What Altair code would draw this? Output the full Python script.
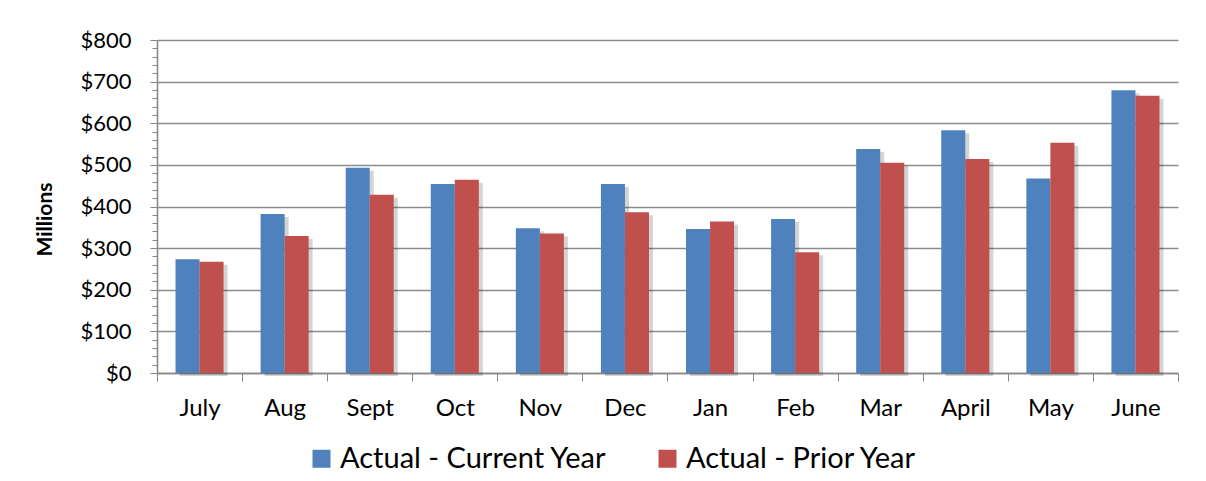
import altair as alt
import pandas as pd

months = ["July", "Aug", "Sept", "Oct", "Nov", "Dec", "Jan", "Feb", "Mar", "April", "May", "June"]
current_year = [273, 382, 493, 454, 348, 454, 346, 370, 538, 583, 467, 679]
prior_year = [267, 329, 428, 464, 335, 386, 364, 290, 505, 514, 553, 666]
series = ["Actual - Current Year", "Actual - Prior Year"]
colors = ["#4F81BD", "#C0504D"]
y_ticks = list(range(0, 801, 20))

rows = []
for m, c, p in zip(months, current_year, prior_year):
    rows.append({"Month": m, "Series": series[0], "Value": c})
    rows.append({"Month": m, "Series": series[1], "Value": p})
df = pd.DataFrame(rows)

FONT = "Lato"
major = "datum.value % 100 === 0"
W, H = 1021, 333
STEP = W / len(months)

x_enc = alt.X(
    "Month:N", sort=months, title=None,
    scale=alt.Scale(paddingInner=0, paddingOuter=0),
    axis=alt.Axis(labelAngle=0, tickBand="extent", tickSize=8, tickColor="#868686",
                  domainColor="#868686", domainWidth=1.5, labelPadding=15,
                  labelFont=FONT, labelFontSize=24, labelColor="#000000"),
)
xo_bar = alt.XOffset("Series:N", sort=series,
                     scale=alt.Scale(paddingInner=0, paddingOuter=0.771))
xo_shadow = alt.XOffset("Series:N", sort=series,
                        scale=alt.Scale(paddingInner=0, paddingOuter=0.771,
                                        range=[4, STEP + 4]))
y_enc = alt.Y(
    "Value:Q", title="Millions",
    scale=alt.Scale(domain=[0, 800], nice=False),
    axis=alt.Axis(
        values=y_ticks,
        labelExpr="datum.value % 100 === 0 ? '$' + datum.value : ''",
        grid=True, gridColor="#8C8C8C", gridWidth=1.5,
        gridOpacity={"condition": {"test": major, "value": 1}, "value": 0},
        tickSize={"condition": {"test": major, "value": 7}, "value": 5},
        tickColor="#868686", domainColor="#868686", domainWidth=1.5,
        labelPadding=19, labelFont=FONT, labelFontSize=22, labelColor="#000000",
        titleFont=FONT, titleFontSize=21, titleFontWeight="bold", titleColor="#000000",
        titleX=-102, titleY=179, titleAngle=-90,
    ),
)

shadow = alt.Chart(df).mark_bar(color="#000000", opacity=0.17, yOffset=3).encode(
    x=x_enc, xOffset=xo_shadow, y=y_enc,
)

bars = alt.Chart(df).mark_bar().encode(
    x=x_enc, xOffset=xo_bar, y=y_enc,
    color=alt.Color(
        "Series:N", sort=series, title=None,
        scale=alt.Scale(domain=series, range=colors),
        legend=alt.Legend(
            orient="none", direction="horizontal", legendX=150, legendY=404,
            symbolType="square", symbolSize=324, symbolStrokeWidth=0,
            labelFont=FONT, labelFontSize=29, labelColor="#000000", labelLimit=0,
            labelOffset=4, columnPadding=46,
        ),
    ),
)

chart = alt.layer(shadow, bars).resolve_scale(xOffset="independent").properties(
    width=W, height=H,
    autosize=alt.AutoSizeParams(type="none"),
    padding={"left": 149, "top": 32, "right": 20, "bottom": 100},
    background="#FFFFFF",
).configure_view(stroke=None)

chart.save("out.html", embed_options={"renderer": "svg", "actions": False})
